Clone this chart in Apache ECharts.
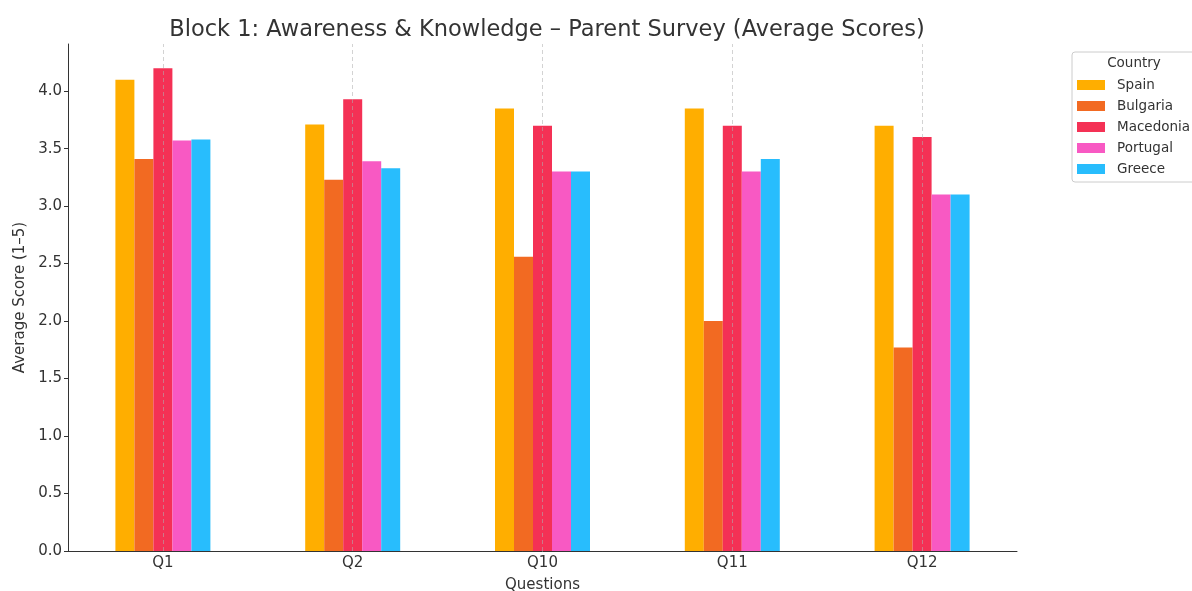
<!DOCTYPE html>
<html>
<head>
<meta charset="utf-8">
<script src="https://cdn.jsdelivr.net/npm/echarts@6/dist/echarts.min.js"></script>
<style>
  html, body { margin: 0; padding: 0; background: #fff; }
  #chart { width: 1192px; height: 591px; }
</style>
</head>
<body>
<div id="chart"></div>
<script>
var questions = ["Q1", "Q2", "Q10", "Q11", "Q12"];
var countries = ["Spain", "Bulgaria", "Macedonia", "Portugal", "Greece"];
var spain = [4.10, 3.71, 3.85, 3.85, 3.70];
var bulgaria = [3.41, 3.23, 2.56, 2.00, 1.77];
var macedonia = [4.20, 3.93, 3.70, 3.70, 3.60];
var portugal = [3.57, 3.39, 3.30, 3.30, 3.10];
var greece = [3.58, 3.33, 3.30, 3.41, 3.10];
var colors = ["#FFAE00", "#F26A22", "#F43155", "#F859C3", "#28BDFD"];

var values = [spain, bulgaria, macedonia, portugal, greece];
var font = "DejaVu Sans";

var chart = echarts.init(document.getElementById("chart"));

var series = countries.map(function (name, i) {
  return {
    name: name,
    type: "bar",
    data: values[i],
    barWidth: 19,
    barGap: "0%",
    itemStyle: { color: colors[i] }
  };
});

// vertical dashed grid lines at the category centres
series.push({
  name: "grid",
  type: "line",
  data: questions.map(function () { return null; }),
  showSymbol: false,
  silent: true,
  z: 5,
  markLine: {
    silent: true,
    symbol: "none",
    label: { show: false },
    lineStyle: { color: "#b0b0b0", type: [4, 3], width: 0.8, opacity: 0.7 },
    data: questions.map(function (q) { return { xAxis: q }; })
  }
});

var option = {
  animation: false,
  textStyle: { fontFamily: font },
  title: {
    text: "Block 1: Awareness & Knowledge \u2013 Parent Survey (Average Scores)",
    left: 542,
    textAlign: "center",
    top: 14,
    textStyle: { fontFamily: font, fontSize: 22.5, fontWeight: "normal", color: "#333" }
  },
  color: colors,
  legend: {
    orient: "vertical",
    left: 1077,
    top: 78,
    padding: 0,
    itemWidth: 28,
    itemHeight: 10,
    itemGap: 7,
    icon: "rect",
    textStyle: { fontFamily: font, fontSize: 13.5, color: "#333", padding: [0, 0, 0, 7] },
    data: countries
  },
  graphic: [
    {
      type: "rect",
      shape: { x: 1072, y: 52, width: 130, height: 130, r: 3 },
      style: { fill: "none", stroke: "#cccccc", lineWidth: 1 },
      z: 0
    },
    {
      type: "text",
      x: 1134,
      y: 63,
      style: {
        text: "Country",
        fontFamily: font,
        fontSize: 13.5,
        fill: "#333",
        align: "center",
        verticalAlign: "middle"
      }
    }
  ],
  grid: { left: 68, right: 175, top: 44, bottom: 40, outerBoundsMode: "none" },
  xAxis: {
    type: "category",
    data: questions,
    name: "Questions",
    nameLocation: "middle",
    nameGap: 27,
    nameTextStyle: { fontFamily: font, fontSize: 15, color: "#333" },
    axisLine: { lineStyle: { color: "#333", width: 1 } },
    axisTick: { alignWithLabel: true, length: 4, lineStyle: { color: "#333" } },
    axisLabel: { fontFamily: font, fontSize: 15, color: "#333", margin: 5 },
    splitLine: { show: false }
  },
  yAxis: {
    type: "value",
    min: 0,
    max: 4.41,
    interval: 0.5,
    name: "Average Score (1\u20135)",
    nameLocation: "middle",
    nameGap: 31,
    nameTextStyle: { fontFamily: font, fontSize: 15, color: "#333" },
    axisLine: { show: true, lineStyle: { color: "#333", width: 1 } },
    axisTick: { show: true, length: 4, lineStyle: { color: "#333" } },
    axisLabel: {
      fontFamily: font,
      fontSize: 15,
      color: "#333",
      margin: 6,
      showMaxLabel: false,
      formatter: function (v) { return v.toFixed(1); }
    },
    splitLine: { show: false }
  },
  series: series
};

chart.setOption(option);
</script>
</body>
</html>
